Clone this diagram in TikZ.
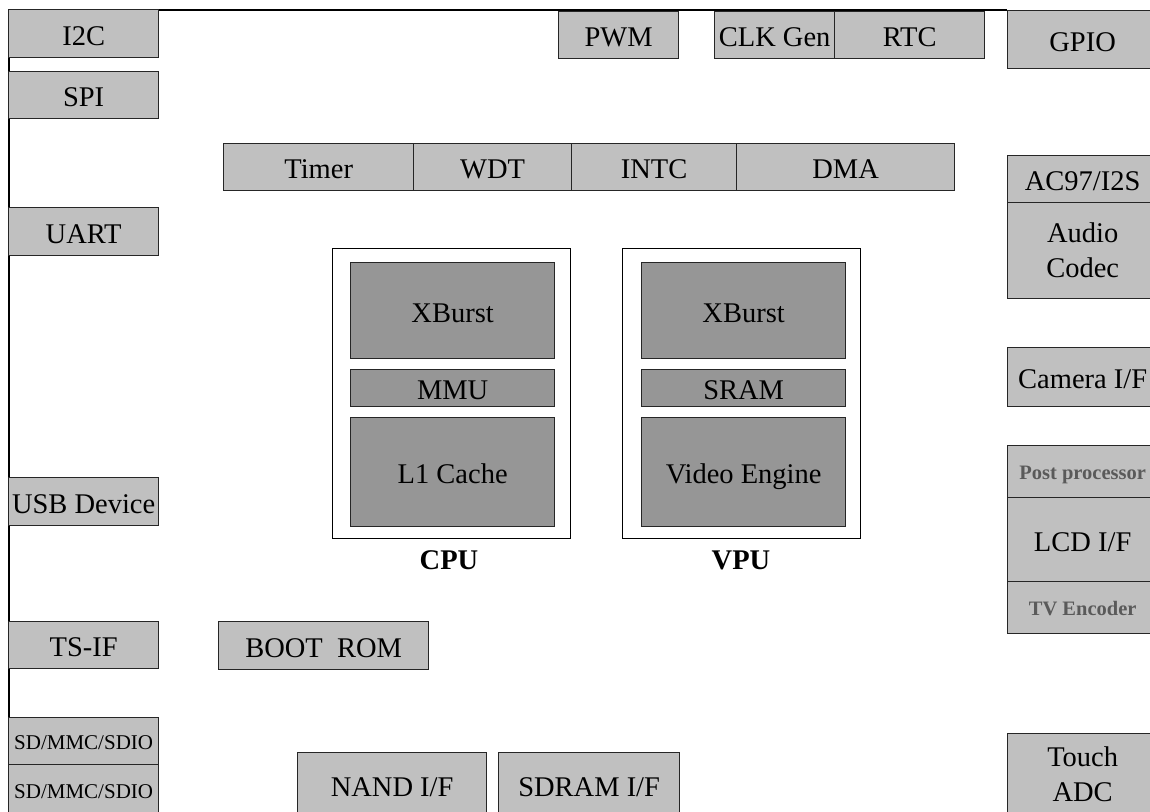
\documentclass[tikz,border=0pt]{standalone}
\usepackage{fontspec}
\setmainfont{Liberation Serif}
\definecolor{lgray}{HTML}{C0C0C0}
\definecolor{dgray}{HTML}{969696}
\definecolor{tgray}{HTML}{5A5A5A}
\tikzset{
  base/.style={draw=black!85, line width=1.3pt, inner sep=0pt, anchor=north west, align=center,
    font=\fontsize{28.5}{35}\selectfont, text height=23.5pt, text depth=0pt},
  lbox/.style={base, fill=lgray},
  dbox/.style={base, fill=dgray},
  frm/.style={base, fill=white, draw=black},
  multi/.style={text height=, text depth=},
  sbox/.style={lbox, font=\fontsize{21}{24}\selectfont, text height=17.5pt},
  gbox/.style={lbox, font=\fontsize{20.5}{23}\selectfont\bfseries, text=tgray, text height=16.5pt},
  caplabel/.style={font=\fontsize{28.5}{32}\selectfont\bfseries},
  wire/.style={draw=black, line width=1.3pt},
  sz/.style n args={2}{minimum width=#1pt, minimum height=#2pt},
}
\begin{document}
\begin{tikzpicture}[x=1pt,y=-1pt]
\useasboundingbox (0,0) rectangle (1150,811);
\clip (0,0) rectangle (1150,811);
% frame
\coordinate (fbl) at (9,815);
\coordinate (ftl) at (9,10);
\coordinate (ftr) at (1007,10);
\draw[wire] (fbl) -- (ftl) -- (ftr);
% left column
\node[lbox, sz={150}{48}] (i2c) at (8,9) {I2C};
\node[lbox, sz={150}{47}] (spi) at (8,71) {SPI};
\node[lbox, sz={150}{48}] (uart) at (8,207) {UART};
\node[lbox, sz={150}{48}] (usb) at (8,477) {USB Device};
\node[lbox, sz={150}{47}] (tsif) at (8,621) {TS-IF};
\node[sbox, sz={150}{47}] (sd1) at (8,717) {SD/MMC/SDIO};
\node[sbox, sz={150}{50}] (sd2) at (8,764) {SD/MMC/SDIO};
% top row
\node[lbox, sz={120}{47}] (pwm) at (558,11) {PWM};
\node[lbox, sz={120}{47}] (clk) at (714,11) {CLK Gen};
\node[lbox, sz={150}{47}] (rtc) at (834,11) {RTC};
\node[lbox, sz={150}{58}] (gpio) at (1007,10) {GPIO};
% timer row
\node[lbox, sz={190}{47}] (timer) at (223,143) {Timer};
\node[lbox, sz={158}{47}] (wdt) at (413,143) {WDT};
\node[lbox, sz={165}{47}] (intc) at (571,143) {INTC};
\node[lbox, sz={218}{47}] (dma) at (736,143) {DMA};
% right column
\node[lbox, sz={150}{47}] (ac97) at (1007,155) {AC97/I2S};
\node[lbox, multi, sz={150}{96}] (codec) at (1007,202) {Audio\\Codec};
\node[lbox, sz={150}{59}] (cam) at (1007,347) {Camera I/F};
\node[gbox, sz={150}{52}] (post) at (1007,445) {Post processor};
\node[lbox, sz={150}{84}] (lcd) at (1007,497) {LCD I/F};
\node[gbox, sz={150}{52}] (tv) at (1007,581) {TV Encoder};
\node[lbox, multi, sz={150}{82}] (touch) at (1007,733) {Touch\\ADC};
% CPU
\node[frm, sz={238}{290}] (cpu) at (332,248) {};
\node[dbox, sz={204}{96}] (cx) at (350,262) {XBurst};
\node[dbox, sz={204}{37}] (mmu) at (350,369) {MMU};
\node[dbox, sz={204}{109}] (l1) at (350,417) {L1 Cache};
\node[caplabel] (cpulab) at (449,560) {CPU};
% VPU
\node[frm, sz={238}{290}] (vpu) at (622,248) {};
\node[dbox, sz={204}{96}] (vx) at (641,262) {XBurst};
\node[dbox, sz={204}{37}] (sram) at (641,369) {SRAM};
\node[dbox, sz={204}{109}] (ve) at (641,417) {Video Engine};
\node[caplabel] (vpulab) at (741,560) {VPU};
% bottom
\node[lbox, sz={210}{48}] (boot) at (218,621) {BOOT\ \ ROM};
\node[lbox, sz={189}{64}] (nand) at (297,752) {NAND I/F};
\node[lbox, sz={181}{64}] (sdram) at (498,752) {SDRAM I/F};
\end{tikzpicture}
\end{document}
